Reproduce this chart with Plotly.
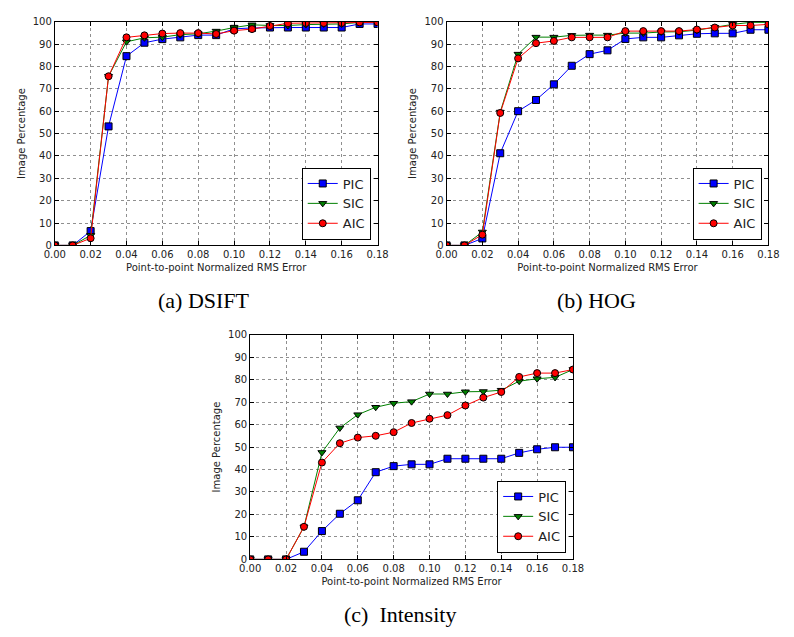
import plotly.graph_objects as go

W, H = 794, 637

x_vals = [0.00, 0.01, 0.02, 0.03, 0.04, 0.05, 0.06, 0.07, 0.08, 0.09,
          0.10, 0.11, 0.12, 0.13, 0.14, 0.15, 0.16, 0.17, 0.18]

series_names = ["PIC", "SIC", "AIC"]

dsift_pic = [0, 0, 6.4, 53.2, 84.6, 90.6, 92.2, 93.0, 94.0, 94.0, 96.8, 97.2, 97.4, 97.4, 97.4, 97.4, 97.4, 99.0, 99.0]
dsift_sic = [0, 0, 4.5, 75.6, 91.0, 92.8, 93.1, 94.2, 94.6, 95.8, 97.4, 98.6, 98.3, 98.3, 98.7, 99.0, 99.0, 99.7, 99.7]
dsift_aic = [0, 0, 3.2, 75.6, 93.0, 93.9, 94.7, 94.9, 94.9, 94.5, 96.0, 96.7, 98.1, 99.3, 99.4, 99.4, 99.4, 99.7, 99.7]

hog_pic = [0, 0, 3.1, 41.2, 60.0, 65.0, 72.0, 80.3, 85.5, 87.2, 92.3, 93.0, 93.0, 93.9, 94.6, 94.8, 94.8, 96.4, 96.4]
hog_sic = [0, 0, 6.0, 59.6, 85.5, 93.1, 93.1, 93.9, 94.0, 94.0, 94.9, 94.9, 95.4, 95.5, 96.2, 97.5, 98.8, 99.7, 99.7]
hog_aic = [0, 0, 4.8, 59.2, 83.6, 90.4, 91.4, 93.0, 93.0, 93.0, 95.8, 95.8, 95.8, 95.8, 96.5, 97.4, 98.3, 98.3, 98.8]

int_pic = [0, 0, 0, 3.4, 12.6, 20.3, 26.3, 38.8, 41.5, 42.3, 42.3, 44.8, 44.8, 44.8, 44.8, 47.4, 49.0, 49.9, 49.9]
int_sic = [0, 0, 0, 14.5, 47.6, 58.5, 64.4, 67.7, 69.5, 70.2, 73.6, 73.6, 74.6, 74.7, 75.3, 79.3, 80.4, 81.0, 84.5]
int_aic = [0, 0, 0, 14.5, 43.1, 51.7, 54.2, 55.0, 56.6, 60.7, 62.6, 64.2, 68.5, 72.0, 74.5, 81.2, 82.9, 82.9, 84.5]

captions = ["(a) DSIFT", "(b) HOG", "(c)  Intensity"]
x_ticks = [0.00, 0.02, 0.04, 0.06, 0.08, 0.10, 0.12, 0.14, 0.16, 0.18]
y_ticks = [0, 10, 20, 30, 40, 50, 60, 70, 80, 90, 100]

colors = ["#0000ff", "#008000", "#ff0000"]
symbols = ["square", "triangle-down", "circle"]

# plot boxes in pixels: (left, right, top, bottom)
boxes = [(45, 377, 16, 244), (448, 779, 16, 244), (246, 578, 335, 564)]
legend_pos = [(370, 238), (772, 238), (571, 557)]
caption_pos = [(198, 300), (602, 300), (400, 620)]

data_sets = [
    [dsift_pic, dsift_sic, dsift_aic],
    [hog_pic, hog_sic, hog_aic],
    [int_pic, int_sic, int_aic],
]

fig = go.Figure()
layout = dict(
    width=W, height=H, margin=dict(l=0, r=0, t=0, b=0),
    paper_bgcolor="white", plot_bgcolor="white",
    font=dict(family="DejaVu Sans", color="#222222"),
    showlegend=True,
)

def px_x(v):
    return v / W

def px_y(v):
    return 1 - v / H

annotations = []
for i, (sets, box) in enumerate(zip(data_sets, boxes)):
    sfx = "" if i == 0 else str(i + 1)
    lg = "legend" if i == 0 else "legend" + str(i + 1)
    for j, (name, ys) in enumerate(zip(series_names, sets)):
        fig.add_trace(go.Scatter(
            x=x_vals, y=ys, name=name, mode="lines+markers",
            xaxis="x" + sfx, yaxis="y" + sfx, legend=lg,
            line=dict(color=colors[j], width=1),
            marker=dict(symbol=symbols[j], size=7, color=colors[j],
                        line=dict(color="black", width=1)),
        ))
    l, r, t, b = box
    axcommon = dict(
        showline=True, linecolor="black", linewidth=1, mirror="ticks",
        ticks="inside", ticklen=4, tickcolor="black",
        showgrid=True, gridcolor="#8f8f8f", griddash="dot", gridwidth=1,
        zeroline=False, tickfont=dict(size=10, color="#222222"),
    )
    layout["xaxis" + sfx] = dict(
        axcommon, domain=[px_x(l), px_x(r)], range=[0, 0.18],
        tickvals=x_ticks, tickformat=".2f", anchor="y" + sfx,
        title=dict(text="Point-to-point Normalized RMS Error",
                   font=dict(size=10, color="#222222"), standoff=4),
    )
    layout["yaxis" + sfx] = dict(
        axcommon, domain=[px_y(b), px_y(t)], range=[0, 100],
        tickvals=y_ticks, anchor="x" + sfx,
        title=dict(text="Image Percentage",
                   font=dict(size=10, color="#222222"), standoff=5),
    )
    lx, ly = legend_pos[i]
    layout[lg] = dict(
        x=px_x(lx), y=px_y(ly), xanchor="right", yanchor="bottom",
        bgcolor="white", bordercolor="black", borderwidth=1,
        font=dict(size=13, color="#222222"), itemwidth=30,
        tracegroupgap=0,
    )
    cx, cy = caption_pos[i]
    annotations.append(dict(
        text=captions[i], x=px_x(cx), y=px_y(cy), xref="paper", yref="paper",
        showarrow=False, xanchor="center", yanchor="middle",
        font=dict(family="Liberation Serif", size=22, color="black"),
    ))

layout["annotations"] = annotations
fig.update_layout(**layout)
fig.write_html("out.html")
